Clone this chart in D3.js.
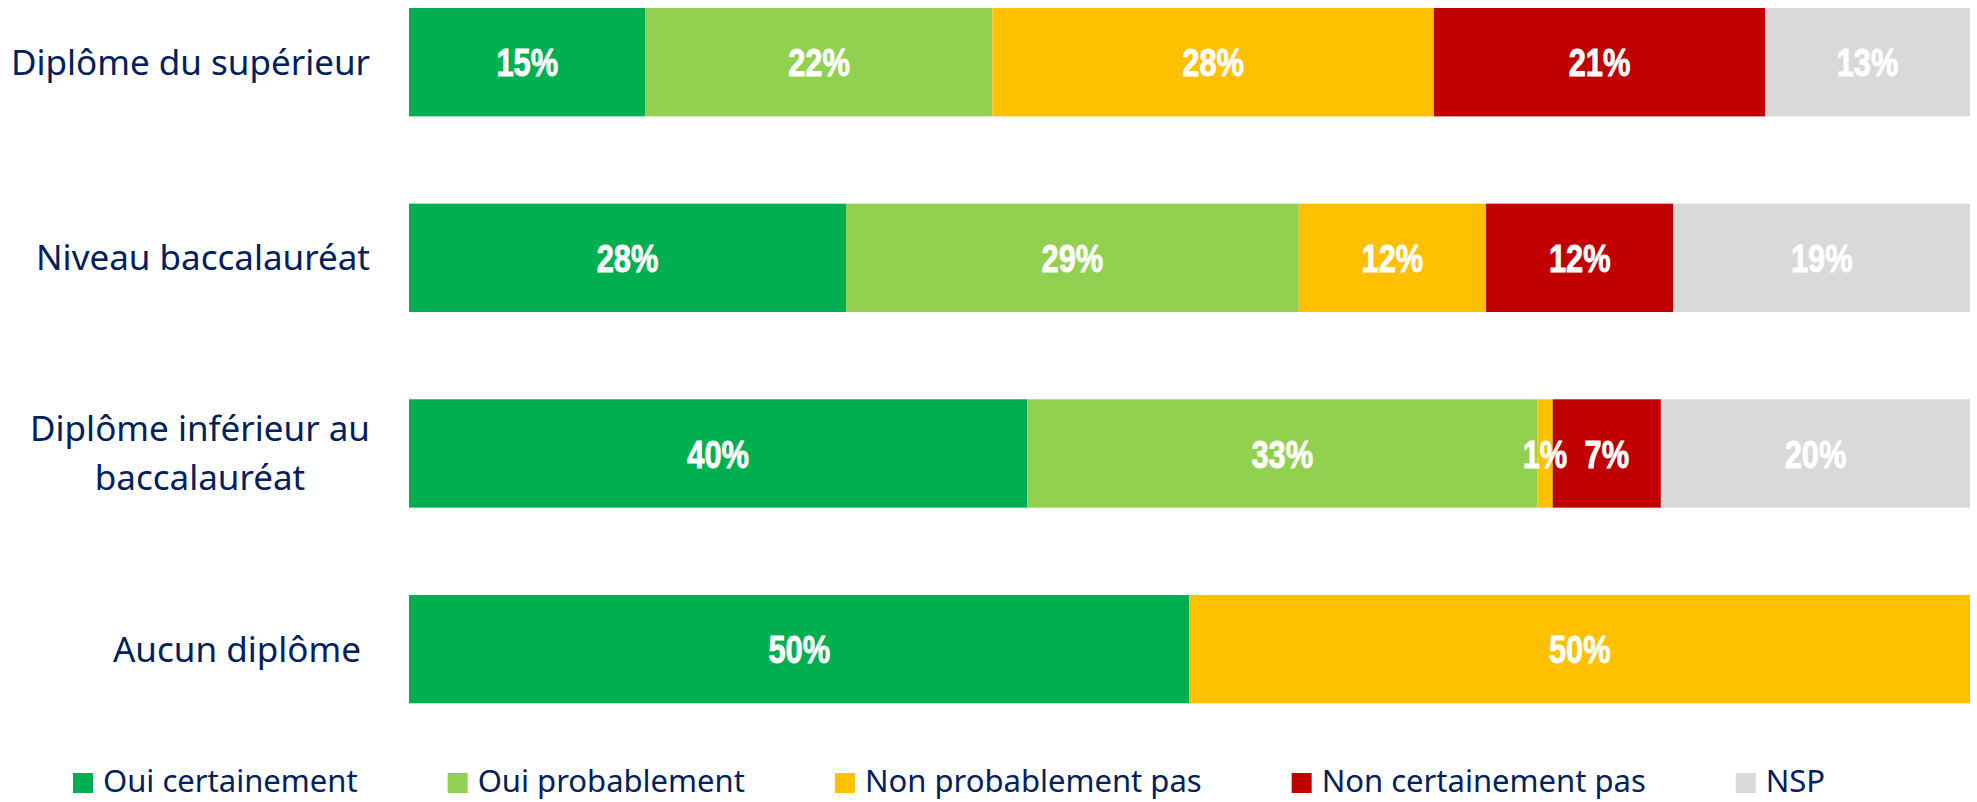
<!DOCTYPE html>
<html lang="fr">
<head>
<meta charset="utf-8">
<script src="https://cdn.jsdelivr.net/npm/d3@7"></script>
<style>
  html, body { margin: 0; padding: 0; background: #ffffff; }
  svg { display: block; }
</style>
</head>
<body>
<svg id="chart" width="1977" height="802"></svg>
<script>
// Niveau de diplôme (one bar per group); the last label keeps its trailing space
const categories = [
  "Diplôme du supérieur",
  "Niveau baccalauréat",
  "Diplôme inférieur au\nbaccalauréat",
  "Aucun diplôme\u00A0"
];

// Answer categories, in stacking order
const seriesNames = [
  "Oui certainement",
  "Oui probablement",
  "Non probablement pas",
  "Non certainement pas",
  "NSP"
];

// Shares (%) for each answer, one value per group
const ouiCertainement    = [15, 28, 40, 50];
const ouiProbablement    = [22, 29, 33, 0];
const nonProbablementPas = [28, 12, 1, 50];
const nonCertainementPas = [21, 12, 7, 0];
const nsp                = [13, 19, 20, 0];

const seriesColors = ["#00B050", "#92D050", "#FFC000", "#C00000", "#D9D9D9"];

const seriesValues = [ouiCertainement, ouiProbablement, nonProbablementPas, nonCertainementPas, nsp];

// One row per group for d3.stack
const rows = categories.map((c, i) => {
  const r = { category: c };
  seriesNames.forEach((s, k) => { r[s] = seriesValues[k][i]; });
  return r;
});

const svg = d3.select("#chart");

const x = d3.scaleLinear().domain([0, 1]).range([409, 1970]);
const y = d3.scaleBand()
  .domain(categories)
  .range([8, 703.3])
  .paddingInner(0.446)
  .paddingOuter(0);

const stacked = d3.stack()
  .keys(seriesNames)
  .offset(d3.stackOffsetExpand)(rows);

// Flat list of segments, used for the rectangles and their labels
const segments = stacked.flatMap((layer, i) =>
  layer.map(p => ({ p, key: layer.key, color: seriesColors[i] })));

svg.append("g")
  .selectAll("rect")
  .data(segments)
  .join("rect")
  .attr("fill", d => d.color)
  .attr("x", d => x(d.p[0]))
  .attr("y", d => y(d.p.data.category))
  .attr("width", d => Math.max(0, x(d.p[1]) - x(d.p[0])))
  .attr("height", y.bandwidth());

// Value labels drawn above every bar, centred in each segment, in a narrowed heavy face
const labelSize = 39, labelSqueeze = 0.79;
svg.append("g")
  .selectAll("text")
  .data(segments.filter(d => d.p.data[d.key] > 0))
  .join("text")
  .attr("transform", d => {
    const cx = (x(d.p[0]) + x(d.p[1])) / 2;
    const cy = y(d.p.data.category) + y.bandwidth() / 2 + 0.36 * labelSize;
    return `translate(${cx},${cy}) scale(${labelSqueeze},1)`;
  })
  .attr("text-anchor", "middle")
  .attr("fill", "#ffffff")
  .attr("stroke", "#ffffff")
  .attr("stroke-width", 0.9)
  .style("font-family", "'Liberation Sans', Arial, sans-serif")
  .style("font-weight", "bold")
  .style("font-size", labelSize + "px")
  .text(d => d.p.data[d.key] + "%");

// Group labels on the left, right-aligned, multi-line labels centred
const catFont = 35, lineH = 49;
const catG = svg.append("g");
categories.forEach(c => {
  const lines = c.split("\n");
  const cy = y(c) + y.bandwidth() / 2;
  const firstBase = cy - ((lines.length - 1) * lineH) / 2 + 0.357 * catFont;
  const t = catG.append("text")
    .attr("fill", "#002060")
    .attr("xml:space", "preserve")
    .style("white-space", "pre")
    .style("font-family", "'Noto Sans', sans-serif")
    .style("font-size", catFont + "px");
  lines.forEach((ln, k) => {
    t.append("tspan").attr("y", firstBase + k * lineH).text(ln);
  });
  // centre the lines on the widest one, and align the block to the right edge
  const widths = [];
  t.selectAll("tspan").each(function () { widths.push(this.getComputedTextLength()); });
  const maxW = d3.max(widths);
  const right = 370;
  t.selectAll("tspan")
    .attr("text-anchor", "middle")
    .attr("x", right - maxW / 2);
});

// Legend along the bottom
const legend = svg.append("g").attr("transform", "translate(73, 773)");
let lx = 0;
seriesNames.forEach((s, i) => {
  const g = legend.append("g").attr("transform", `translate(${lx},0)`);
  g.append("rect").attr("width", 20).attr("height", 20).attr("fill", seriesColors[i]);
  const t = g.append("text")
    .attr("x", 30)
    .attr("y", 19)
    .attr("fill", "#002060")
    .style("font-family", "'Noto Sans', sans-serif")
    .style("font-size", "31px")
    .text(s);
  lx += 30 + t.node().getComputedTextLength() + 90;
});
</script>
</body>
</html>
